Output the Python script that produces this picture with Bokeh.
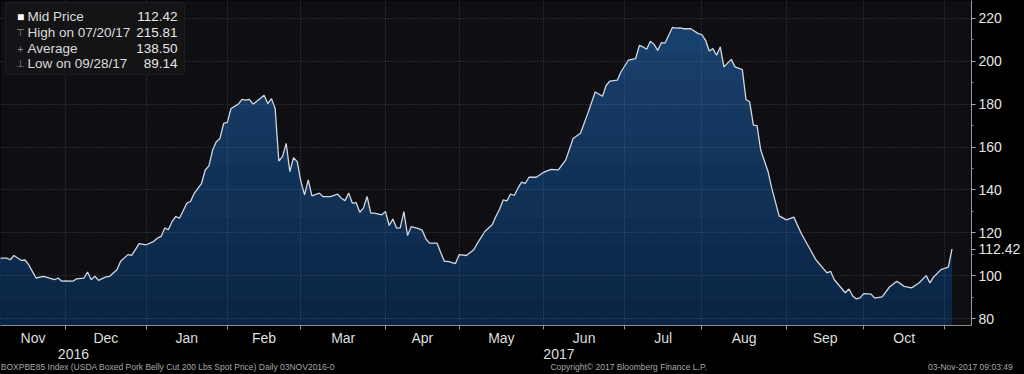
import numpy as np
from bokeh.plotting import figure
from bokeh.models import (Range1d, FixedTicker, Label, BoxAnnotation, LinearAxis)
from bokeh.embed import file_html
from bokeh.resources import INLINE

# ---------------- data ----------------
SERIES_START = "2016-11-03"          # trading day 0
trading_day = [2, 4, 5, 6, 8, 9, 10, 11, 12, 14, 15, 17, 18, 19, 20, 22, 23, 25, 26, 27,
               28, 29, 31, 32, 34, 35, 37, 38, 39, 40, 42, 44, 45, 46, 47, 48, 49, 50, 51, 53,
               54, 55, 57, 58, 59, 60, 61, 62, 63, 64, 65, 67, 68, 69, 70, 71, 72, 74, 75, 76,
               77, 78, 79, 80, 81, 82, 83, 84, 85, 86, 87, 89, 90, 92, 94, 95, 96, 97, 98, 99,
               100, 101, 102, 103, 104, 106, 107, 108, 109, 110, 111, 112, 113, 114, 116, 117,
               118, 119, 121, 122, 123, 124, 126, 127, 129, 131, 132, 134, 136, 137, 138, 139,
               140, 141, 142, 143, 144, 145, 146, 148, 150, 152, 154, 156, 158, 160, 162, 164,
               166, 167, 168, 170, 171, 173, 175, 176, 177, 178, 179, 180, 181, 182, 183, 185,
               186, 187, 188, 190, 192, 193, 194, 195, 196, 197, 198, 199, 201, 202, 204, 205,
               206, 207, 208, 209, 211, 212, 214, 216, 218, 220, 222, 224, 227, 228, 229, 232,
               233, 234, 235, 236, 237, 239, 240, 242, 244, 246, 248, 250, 252, 254, 255, 256,
               258, 260, 261]
mid_price = [108.2, 108.2, 107.4, 109.4, 107.1, 107.3, 105.1, 102.0, 98.9, 99.7, 99.2, 98.1,
             98.9, 97.4, 97.5, 97.4, 98.5, 98.8, 101.7, 98.1, 99.7, 97.8, 99.4, 99.7, 102.8,
             106.7, 109.8, 109.5, 112.1, 114.9, 114.4, 116.0, 117.5, 118.3, 122.2, 121.5, 125.3,
             127.6, 126.8, 133.8, 134.6, 138.4, 143.1, 149.3, 151.2, 158.6, 162.5, 164.0, 171.0,
             171.5, 178.0, 180.0, 182.2, 181.9, 182.2, 180.0, 181.4, 184.2, 180.3, 182.6, 178.0,
             153.5, 155.5, 161.7, 148.5, 155.0, 153.2, 144.0, 137.7, 144.7, 137.2, 138.5, 136.9,
             136.9, 138.0, 136.1, 135.0, 138.5, 133.8, 134.1, 129.6, 131.5, 136.9, 129.2, 129.2,
             128.4, 129.9, 123.4, 126.4, 122.2, 122.3, 129.9, 118.7, 122.9, 121.9, 121.1, 117.1,
             115.2, 115.2, 110.8, 106.7, 106.7, 105.6, 109.8, 109.4, 112.1, 115.2, 120.6, 123.7,
             127.6, 131.0, 135.3, 134.9, 138.1, 137.4, 140.8, 143.6, 143.0, 145.9, 145.9, 148.2,
             149.6, 149.3, 154.0, 164.0, 166.4, 175.7, 185.7, 183.7, 188.8, 190.8, 191.2, 195.0,
             200.5, 201.2, 207.4, 206.7, 205.6, 209.4, 207.9, 205.1, 208.7, 208.5, 215.81, 215.5,
             215.6, 215.2, 215.2, 212.9, 212.5, 209.8, 204.8, 205.9, 202.8, 206.7, 197.4, 200.9,
             197.4, 196.1, 182.2, 181.1, 170.2, 170.0, 158.6, 148.5, 140.8, 127.9, 126.0, 127.3,
             119.8, 113.6, 107.4, 101.3, 102.0, 98.1, 92.0, 93.8, 90.5, 89.14, 89.6, 91.6, 91.4,
             89.5, 90.1, 94.7, 97.4, 95.0, 94.3, 96.6, 100.0, 96.6, 99.4, 102.8, 104.0, 112.42]

month_names = ["Nov", "Dec", "Jan", "Feb", "Mar", "Apr", "May", "Jun", "Jul", "Aug", "Sep", "Oct"]
month_start_dates = ["2016-11-01", "2016-12-01", "2017-01-01", "2017-02-01", "2017-03-01",
                     "2017-04-01", "2017-05-01", "2017-06-01", "2017-07-01", "2017-08-01",
                     "2017-09-01", "2017-10-01", "2017-11-01"]
year_names = ["2016", "2017"]
year_split_date = "2017-01-01"
price_ticks = [80, 100, 120, 140, 160, 180, 200, 220]
price_minor = [90, 110, 130, 150, 170, 190, 210]

legend_names = ["Mid Price", "High on 07/20/17", "Average", "Low on 09/28/17"]
legend_values = ["112.42", "215.81", "138.50", "89.14"]
legend_icons = ["\u25A0", "\u22A4", "+", "\u22A5"]

footer_texts = ["BOXPBE85 Index (USDA Boxed Pork Belly Cut 200 Lbs Spot Price)  Daily 03NOV2016-0",
                "Copyright\u00A9 2017 Bloomberg Finance L.P.",
                "03-Nov-2017 09:03:49"]
footer_pos = [48.15, 173.1, 266.0]     # trading-day positions of the footer text centres

# ---------------- layout constants ----------------
X_LO, X_HI = 2.34, 266.3
Y_LO, Y_HI = 76.74, 228.37
W, H = 1024, 374
FRAME_W = 971
FONT = "Liberation Sans"

month_idx = [int(np.busday_count(SERIES_START, d)) for d in month_start_dates]
month_mid = []
for i in range(len(month_names)):
    a = max(month_idx[i], X_LO)
    b = min(month_idx[i + 1], X_HI)
    month_mid.append(round((a + b) / 2.0, 3))
split_idx = int(np.busday_count(SERIES_START, year_split_date))
year_mid = [round((X_LO + split_idx) / 2.0, 3), round((split_idx + X_HI) / 2.0, 3)]

p = figure(width=W, height=H, x_range=Range1d(X_LO, X_HI), y_range=Range1d(Y_LO, Y_HI),
           y_axis_location="right", output_backend="svg", toolbar_location=None,
           min_border_left=0, min_border_right=W - FRAME_W, min_border_top=0,
           min_border_bottom=48, background_fill_color="#0f0f13",
           border_fill_color="#000000", outline_line_color=None)

# gradient-like area: layered fills, lighter towards the top
x = np.array(trading_day, dtype=float)
yv = np.array(mid_price, dtype=float)
nb = 12
levels = np.linspace(Y_LO - 1, Y_HI + 1, nb + 1)
c_bot = np.array([0x0a, 0x24, 0x43])
c_top = np.array([0x1b, 0x44, 0x72])
for j in reversed(range(nb)):
    t = (j + 0.5) / nb
    c = (c_bot + (c_top - c_bot) * t).astype(int)
    col = "#%02x%02x%02x" % tuple(c)
    p.varea(x=x, y1=Y_LO - 5, y2=np.minimum(yv, levels[j + 1]), fill_color=col, fill_alpha=1.0)

p.line(x, yv, line_color="#d2d6de", line_width=1.3)

# grids
xg = p.xgrid[0]
xg.axis = None
xg.ticker = FixedTicker(ticks=month_idx)
yg = p.ygrid[0]
yg.axis = None
yg.ticker = FixedTicker(ticks=price_ticks)
for g in (xg, yg):
    g.grid_line_color = "#8a97a8"
    g.grid_line_alpha = 0.38
    g.grid_line_dash = "1 2"
    g.grid_line_width = 1
    g.level = "guide"

# x axis: labels in mid-month, tick marks at month starts
xa = p.xaxis[0]
xa.ticker = FixedTicker(ticks=month_mid, minor_ticks=month_idx)
xa.major_label_overrides = {m: n for m, n in zip(month_mid, month_names)}
xa.major_tick_line_color = None
xa.major_tick_out = 0
xa.major_tick_in = 0
xa.minor_tick_line_color = "#9a9a9a"
xa.minor_tick_out = 4
xa.minor_tick_in = 0
xa.axis_line_color = "#8c8c8c"
xa.major_label_text_color = "#dedede"
xa.major_label_text_font = FONT
xa.major_label_text_font_size = "14px"
xa.major_label_standoff = 0

# year row
yax = LinearAxis(ticker=FixedTicker(ticks=year_mid, minor_ticks=[]),
                 major_label_overrides={m: n for m, n in zip(year_mid, year_names)},
                 axis_line_color=None, major_tick_line_color=None, major_tick_out=0,
                 major_tick_in=0, minor_tick_line_color=None, minor_tick_out=0,
                 minor_tick_in=0, major_label_standoff=0, major_label_text_color="#dedede",
                 major_label_text_font=FONT, major_label_text_font_size="14px")
p.add_layout(yax, "below")

# footer row
fax = LinearAxis(ticker=FixedTicker(ticks=footer_pos, minor_ticks=[]),
                 major_label_overrides={m: n for m, n in zip(footer_pos, footer_texts)},
                 axis_line_color=None, major_tick_line_color=None, major_tick_out=0,
                 major_tick_in=0, minor_tick_line_color=None, minor_tick_out=0,
                 minor_tick_in=0, major_label_standoff=0,
                 major_label_text_color="#a8a8a8", major_label_text_font=FONT,
                 major_label_text_font_size="8.5px")
p.add_layout(fax, "below")

# y axis on the right, with the last price as an extra labelled tick
last = mid_price[-1]
ya = p.yaxis[0]
ya.ticker = FixedTicker(ticks=price_ticks + [last], minor_ticks=price_minor)
overrides = {t: str(t) for t in price_ticks}
overrides[last] = "%.2f" % last
ya.major_label_overrides = overrides
ya.axis_line_color = "#9a9a9a"
ya.major_tick_line_color = "#b0b0b0"
ya.major_tick_out = 4
ya.major_tick_in = 0
ya.minor_tick_line_color = "#8a8a8a"
ya.minor_tick_out = 2
ya.minor_tick_in = 0
ya.major_label_text_color = "#e6e6e6"
ya.major_label_text_font = FONT
ya.major_label_text_font_size = "14px"
ya.major_label_standoff = 3

# legend box
p.add_layout(BoxAnnotation(left=5, right=184, top=323, bottom=251, left_units="screen",
                           right_units="screen", top_units="screen", bottom_units="screen",
                           fill_color="#141417", fill_alpha=1.0, line_color="#3c3c42",
                           line_width=1, border_radius=3))
row_y = [309, 293, 277, 262]
for i, (nm, vl, ic) in enumerate(zip(legend_names, legend_values, legend_icons)):
    p.add_layout(Label(x=20, y=row_y[i], x_units="screen", y_units="screen", text=ic,
                       text_align="center", text_baseline="middle",
                       text_color="#ffffff" if i == 0 else "#8a8a8a", text_font=FONT,
                       text_font_size="12px" if i == 0 else "10px"))
    p.add_layout(Label(x=27, y=row_y[i], x_units="screen", y_units="screen", text=nm,
                       text_align="left", text_baseline="middle", text_color="#dcdcdc",
                       text_font=FONT, text_font_size="13.5px"))
    p.add_layout(Label(x=177, y=row_y[i], x_units="screen", y_units="screen", text=vl,
                       text_align="right", text_baseline="middle", text_color="#e6e6e6",
                       text_font=FONT, text_font_size="13.5px"))

html = file_html(p, INLINE, title="BOXPBE85 Index")
html = html.replace("<head>", "<head><style>html,body{background:#000000;}</style>", 1)
open("out.html", "w").write(html)
